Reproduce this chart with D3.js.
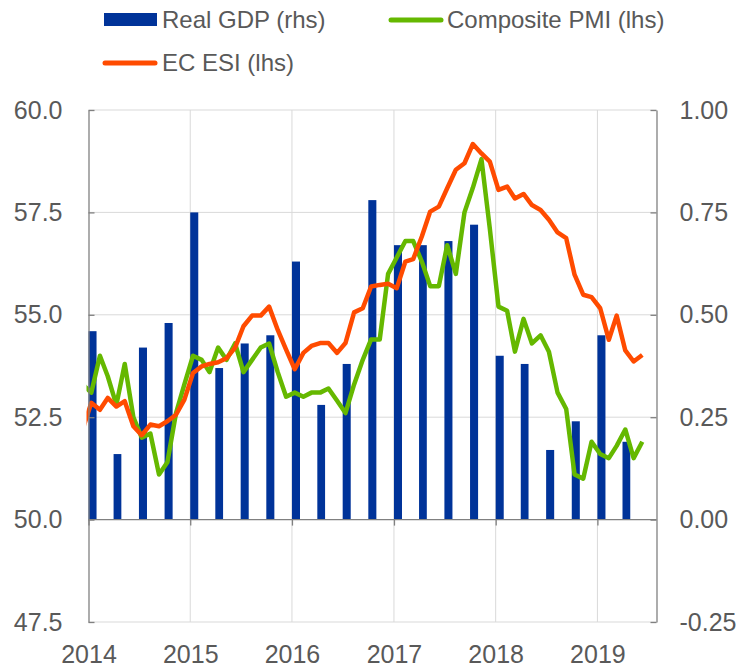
<!DOCTYPE html>
<html>
<head>
<meta charset="utf-8">
<script src="https://cdn.jsdelivr.net/npm/d3@7"></script>
<style>
  body { margin: 0; background: #fff; }
  text { font-family: "Liberation Sans", Arial, sans-serif; fill: #595959; }
</style>
</head>
<body>
<div id="chart"></div>
<script>
// quarterly real GDP growth (rhs), one bar per quarter 2014Q1 - 2019Q2
const quarters = ["2014Q1","2014Q2","2014Q3","2014Q4","2015Q1","2015Q2","2015Q3","2015Q4",
  "2016Q1","2016Q2","2016Q3","2016Q4","2017Q1","2017Q2","2017Q3","2017Q4",
  "2018Q1","2018Q2","2018Q3","2018Q4","2019Q1","2019Q2"];
const realGdp = [0.46, 0.16, 0.42, 0.48, 0.75, 0.37, 0.43, 0.45,
  0.63, 0.28, 0.38, 0.78, 0.67, 0.67, 0.68, 0.72,
  0.40, 0.38, 0.17, 0.24, 0.45, 0.19];

// monthly series (lhs), first point sits just left of the plot and is clipped
const compositePmi = [53.3,
  53.1, 54.0, 53.5, 52.8, 53.8, 52.5, 52.0, 52.1, 51.1, 51.4, 52.6, 53.3,
  54.0, 53.9, 53.6, 54.2, 53.9, 54.3, 53.6, 53.9, 54.2, 54.3,
  53.6, 53.0, 53.1, 53.0, 53.1, 53.1, 53.2, 52.9, 52.6, 53.3, 53.9, 54.4,
  54.4, 56.0, 56.4, 56.8, 56.8, 56.3, 55.7, 55.7, 56.7, 56.0, 57.5, 58.1,
  58.8, 57.1, 55.2, 55.1, 54.1, 54.9, 54.3, 54.5, 54.1, 53.1, 52.7, 51.1,
  51.0, 51.9, 51.6, 51.5, 51.8, 52.2, 51.5, 51.9];
const ecEsi = [52.2,
  52.85, 52.68, 52.97, 52.76, 52.89, 52.28, 52.06, 52.32, 52.28, 52.40, 52.56, 52.93,
  53.58, 53.74, 53.80, 53.84, 53.94, 54.20, 54.72, 54.98, 54.98, 55.20,
  54.63, 54.15, 53.67, 54.07, 54.24, 54.31, 54.31, 54.07, 54.31, 55.06, 55.16, 55.69,
  55.73, 55.76, 55.65, 56.30, 56.36, 56.91, 57.52, 57.64, 58.09, 58.54, 58.70, 59.17,
  58.94, 58.74, 58.05, 58.13, 57.84, 57.95, 57.68, 57.56, 57.32, 57.01, 56.87, 55.98,
  55.49, 55.43, 55.16, 54.39, 54.98, 54.13, 53.86, 54.02];

const leftTicks = [47.5, 50, 52.5, 55, 57.5, 60];
const rightTicks = [-0.25, 0, 0.25, 0.5, 0.75, 1.0];
const years = [2014, 2015, 2016, 2017, 2018, 2019];

const width = 743;
const height = 667;
const plot = { left: 88.5, right: 656.5, top: 110, bottom: 622 };

const colors = { gdp: "#003399", pmi: "#65b800", esi: "#ff4b00", grid: "#d9d9d9", axis: "#808080" };

const svg = d3.select("#chart").append("svg")
  .attr("width", width)
  .attr("height", height);

// scales
const x = d3.scaleTime()
  .domain([new Date(2014, 0, 1), new Date(2019, 7, 1)])
  .range([plot.left, plot.right]);
const yLeft = d3.scaleLinear().domain([47.5, 60]).range([plot.bottom, plot.top]);
const yRight = d3.scaleLinear().domain([-0.25, 1]).range([plot.bottom, plot.top]);

const quarterDate = (q) => new Date(+q.slice(0, 4), (+q.slice(5) - 1) * 3, 1);
const monthDate = (i) => new Date(2013, 11 + i, 11);

// gridlines
svg.append("g")
  .selectAll("line")
  .data(leftTicks.filter((d) => d !== 50))
  .join("line")
  .attr("x1", plot.left).attr("x2", plot.right)
  .attr("y1", (d) => yLeft(d)).attr("y2", (d) => yLeft(d))
  .attr("stroke", colors.grid).attr("stroke-width", 1);

svg.append("g")
  .selectAll("line")
  .data(years.slice(1))
  .join("line")
  .attr("x1", (d) => x(new Date(d, 0, 1))).attr("x2", (d) => x(new Date(d, 0, 1)))
  .attr("y1", plot.top).attr("y2", plot.bottom)
  .attr("stroke", colors.grid).attr("stroke-width", 1);

// bars
svg.append("g")
  .selectAll("rect")
  .data(quarters)
  .join("rect")
  .attr("x", (q) => x(quarterDate(q)))
  .attr("width", (q) => {
    const d = quarterDate(q);
    return x(d3.timeMonth.offset(d, 1)) - x(d) - 0.6;
  })
  .attr("y", (q, i) => yRight(realGdp[i]))
  .attr("height", (q, i) => yRight(0) - yRight(realGdp[i]))
  .attr("fill", colors.gdp);

// lines
svg.append("clipPath").attr("id", "plot-clip")
  .append("rect")
  .attr("x", plot.left - 2).attr("y", plot.top - 10)
  .attr("width", plot.right - plot.left + 2).attr("height", plot.bottom - plot.top + 10);

const line = d3.line()
  .x((d, i) => x(monthDate(i)))
  .y((d) => yLeft(d));

const lines = svg.append("g").attr("clip-path", "url(#plot-clip)");
lines.append("path")
  .datum(compositePmi)
  .attr("d", line)
  .attr("fill", "none")
  .attr("stroke", colors.pmi)
  .attr("stroke-width", 4.5)
  .attr("stroke-linejoin", "round");
lines.append("path")
  .datum(ecEsi)
  .attr("d", line)
  .attr("fill", "none")
  .attr("stroke", colors.esi)
  .attr("stroke-width", 4.5)
  .attr("stroke-linejoin", "round");

// axes
const leftAxis = svg.append("g")
  .attr("transform", `translate(${plot.left},0)`)
  .call(d3.axisLeft(yLeft).tickValues(leftTicks).tickFormat((d) => d.toFixed(1))
    .tickSize(-6).tickSizeOuter(0).tickPadding(26));

const rightAxis = svg.append("g")
  .attr("transform", `translate(${plot.right},0)`)
  .call(d3.axisRight(yRight).tickValues(rightTicks).tickFormat((d) => d.toFixed(2))
    .tickSize(-6).tickSizeOuter(0).tickPadding(23));

const bottomAxis = svg.append("g")
  .attr("transform", `translate(0,${yLeft(50)})`)
  .call(d3.axisBottom(x).tickValues(years.map((y) => new Date(y, 0, 1)))
    .tickFormat(d3.timeFormat("%Y"))
    .tickSize(6).tickSizeOuter(0).tickPadding(120));

bottomAxis.select(".domain").attr("d", `M${plot.left},0H${plot.right}`);

[leftAxis, rightAxis, bottomAxis].forEach((g) => {
  g.select(".domain").attr("stroke", colors.axis).attr("stroke-width", 1.3);
  g.selectAll(".tick line").attr("stroke", colors.axis).attr("stroke-width", 1.3);
  g.selectAll(".tick text")
    .attr("fill", "#595959")
    .style("font-family", '"Liberation Sans", Arial, sans-serif')
    .style("font-size", "25px");
});

// legend
const legend = svg.append("g").style("font-size", "24px");
legend.append("rect")
  .attr("x", 104).attr("y", 13).attr("width", 53).attr("height", 13)
  .attr("fill", colors.gdp);
legend.append("text").attr("x", 162).attr("y", 28).text("Real GDP (rhs)");

legend.append("line")
  .attr("x1", 391).attr("x2", 441).attr("y1", 20).attr("y2", 20)
  .attr("stroke", colors.pmi).attr("stroke-width", 5).attr("stroke-linecap", "round");
legend.append("text").attr("x", 447).attr("y", 28).text("Composite PMI (lhs)");

legend.append("line")
  .attr("x1", 105).attr("x2", 155).attr("y1", 63).attr("y2", 63)
  .attr("stroke", colors.esi).attr("stroke-width", 5).attr("stroke-linecap", "round");
legend.append("text").attr("x", 162).attr("y", 71).text("EC ESI (lhs)");
</script>
</body>
</html>
